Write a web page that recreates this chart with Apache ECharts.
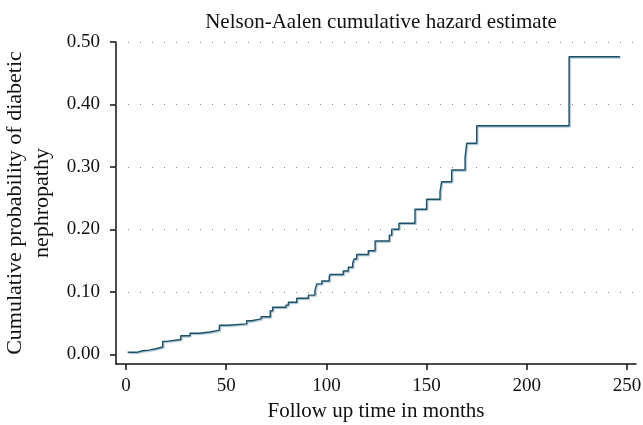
<!DOCTYPE html>
<html>
<head>
<meta charset="utf-8">
<script src="https://cdn.jsdelivr.net/npm/echarts@6/dist/echarts.min.js"></script>
<style>
  html, body { margin: 0; padding: 0; background: #fff; }
  #chart { width: 643px; height: 425px; }
</style>
</head>
<body>
<div id="chart"></div>
<script>
// follow-up time (months) at which the estimate steps, and the value after each step
var months = [0.8, 5.3, 8.3, 11.5, 15.3, 18.3, 20.3, 27.3, 31.9, 36.6, 41.9, 46.6, 50.7,
  60.2, 62.7, 67.4, 72.0, 73.2, 79.8, 81.0, 85.2, 91.0, 94.3, 95.2, 97.7, 101.4, 101.8,
  108.4, 110.9, 113.1, 113.8, 115.1, 120.9, 124.3, 131.4, 132.6, 136.2, 144.2, 150.0,
  156.7, 157.5, 162.5, 169.2, 170.0, 175.0, 221.1, 246.5];
var hazard = [0.0035, 0.006, 0.007, 0.0096, 0.012, 0.021, 0.024, 0.030, 0.034, 0.036, 0.039,
  0.0467, 0.049, 0.054, 0.057, 0.0605, 0.070, 0.0755, 0.079, 0.0835, 0.090, 0.095, 0.103,
  0.113, 0.1176, 0.1245, 0.128, 0.1336, 0.1395, 0.146, 0.1528, 0.160, 0.166, 0.1816, 0.191,
  0.2003, 0.21, 0.2323, 0.2483, 0.2605, 0.2765, 0.2952, 0.3149, 0.338, 0.366, 0.4765, 0.4765];

var xTicks = [0, 50, 100, 150, 200, 250];
var yTicks = [0, 0.1, 0.2, 0.3, 0.4, 0.5];
var yGrid = [0.1, 0.2, 0.3, 0.4, 0.5];

var font = '"Liberation Serif", "Times New Roman", serif';

var points = months.map(function (m, i) { return [m, hazard[i]]; });

var myChart = echarts.init(document.getElementById('chart'));
myChart.setOption({
  animation: false,
  title: {
    text: 'Nelson-Aalen cumulative hazard estimate',
    left: 376,
    top: 7,
    textAlign: 'center',
    textStyle: { fontFamily: font, fontSize: 21, fontWeight: 'normal', color: '#111' }
  },
  grid: { left: 116, right: 7, top: 42, bottom: 61, outerBoundsMode: 'none', containLabel: false },
  xAxis: {
    type: 'value',
    min: -5,
    max: 254.5,
    name: 'Follow up time in months',
    nameLocation: 'middle',
    nameGap: 37,
    nameTextStyle: { fontFamily: font, fontSize: 21, color: '#111' },
    axisLine: { onZero: false, lineStyle: { color: '#111', width: 1.5 } },
    axisTick: { customValues: xTicks, length: 6, lineStyle: { color: '#111', width: 1.5 } },
    axisLabel: { customValues: xTicks, margin: 13, fontFamily: font, fontSize: 19, color: '#111' },
    splitLine: { show: false }
  },
  yAxis: {
    type: 'value',
    min: -0.0152,
    max: 0.5,
    name: 'Cumulative probability of diabetic\nnephropathy',
    nameLocation: 'middle',
    nameRotate: 90,
    nameGap: 53,
    nameTextStyle: { fontFamily: font, fontSize: 22, lineHeight: 27, color: '#111' },
    axisLine: { show: true, onZero: false, lineStyle: { color: '#111', width: 1.5 } },
    axisTick: { show: true, customValues: yTicks, length: 6, lineStyle: { color: '#111', width: 1.5 } },
    axisLabel: {
      customValues: yTicks, margin: 16, fontFamily: font, fontSize: 19, color: '#111',
      formatter: function (v) { return v.toFixed(2); }
    },
    splitLine: { show: false }
  },
  series: [{
    type: 'line',
    step: 'end',
    data: points,
    showSymbol: false,
    lineStyle: {
      color: '#1f5068', width: 1.4,
      shadowColor: 'rgba(90,140,165,0.6)', shadowBlur: 1, shadowOffsetX: 1, shadowOffsetY: 1
    },
    markLine: {
      silent: true,
      symbol: 'none',
      label: { show: false },
      lineStyle: { color: '#888', width: 1, type: [1, 11] },
      data: yGrid.map(function (v) { return { yAxis: v }; })
    },
    z: 3
  }]
});
</script>
</body>
</html>
